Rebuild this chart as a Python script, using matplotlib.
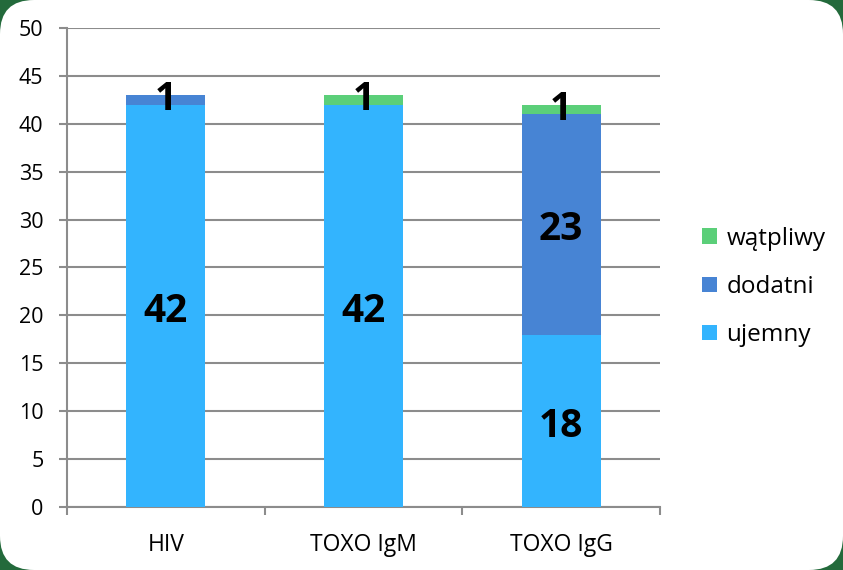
import matplotlib.pyplot as plt
from matplotlib.patches import FancyBboxPatch
from matplotlib.transforms import IdentityTransform
import numpy as np

plt.rcParams['font.family'] = ['Open Sans', 'DejaVu Sans']

# data
categories = ['HIV', 'TOXO IgM', 'TOXO IgG']
ujemny = [42, 42, 18]
dodatni = [1, 0, 23]
watpliwy = [0, 1, 1]

colors = {'ujemny': '#33B4FE', 'dodatni': '#4784D4', 'wątpliwy': '#5BCF79'}
grid_col = '#8C8C8C'

fig = plt.figure(figsize=(8.43, 5.70), dpi=100)
fig.patch.set_facecolor('#236A3B')
# white rounded card over green background
card = FancyBboxPatch((0, 0), 843, 570, boxstyle='round,pad=0,rounding_size=34',
                      transform=IdentityTransform(), facecolor='white',
                      edgecolor='none', zorder=-10)
fig.patches.append(card)

ax = fig.add_axes([0.0795, 0.1105, 0.7035, 0.8405])
ax.set_facecolor('none')

x = np.arange(len(categories))
w = 0.4
series = [('ujemny', ujemny), ('dodatni', dodatni), ('wątpliwy', watpliwy)]
bottom = np.zeros(len(categories))
for name, vals in series:
    vals = np.array(vals, dtype=float)
    ax.bar(x, vals, w, bottom=bottom, color=colors[name], label=name, zorder=3)
    for xi, b, v in zip(x, bottom, vals):
        if v > 0:
            off = -4 if v > 1 else 0
            ax.annotate(f'{int(v)}', (xi, b + v / 2), xytext=(0, off),
                        textcoords='offset points', ha='center', va='center',
                        fontsize=28, fontweight='bold', color='black', zorder=4)
    bottom += vals

ax.set_xlim(-0.5, 2.5)
ax.set_ylim(0, 50)
ax.set_yticks(range(0, 51, 5))
ax.yaxis.grid(True, color=grid_col, linewidth=1.5, zorder=0)
ax.set_axisbelow(True)

# category ticks on boundaries, labels at centers
ax.set_xticks([-0.5, 0.5, 1.5, 2.5])
ax.set_xticklabels([])
ax.set_xticks(x, minor=True)
ax.set_xticklabels(categories, minor=True)
ax.tick_params(axis='x', which='major', length=6, width=1.5, color=grid_col,
               direction='out')
ax.tick_params(axis='x', which='minor', length=0, pad=19, labelsize=16.5)
ax.tick_params(axis='y', length=6, width=1.5, color=grid_col, pad=11,
               labelsize=15.5)

for s in ['top', 'right']:
    ax.spines[s].set_visible(False)
for s in ['left', 'bottom']:
    ax.spines[s].set_color(grid_col)
    ax.spines[s].set_linewidth(1.5)

h, l = ax.get_legend_handles_labels()
fig.legend(h[::-1], l[::-1], loc='center left', bbox_to_anchor=(0.833, 0.4965),
           frameon=False, fontsize=17.5, handlelength=0.6, handleheight=0.6,
           handletextpad=0.4, labelspacing=1.0, borderpad=0, borderaxespad=0)

fig.savefig('out.png', dpi=100, facecolor=fig.get_facecolor())
